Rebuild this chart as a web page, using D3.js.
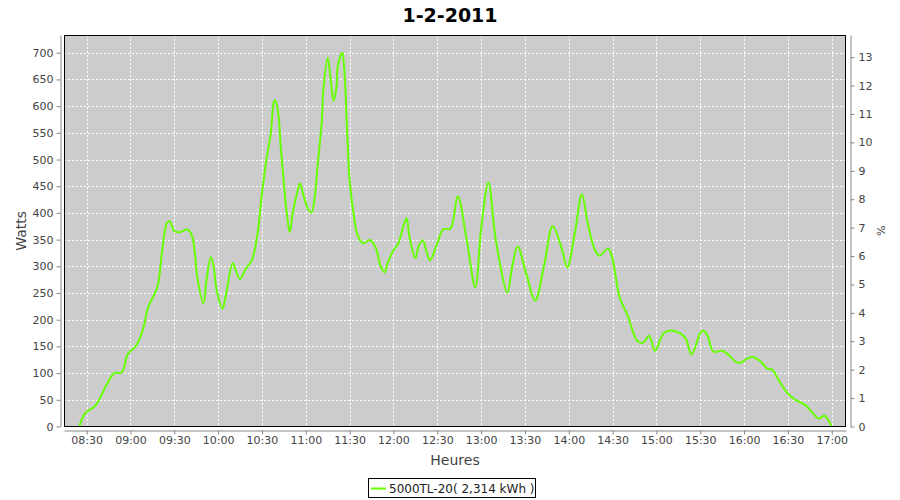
<!DOCTYPE html>
<html><head><meta charset="utf-8">
<script src="https://cdn.jsdelivr.net/npm/d3@7"></script>
<style>
body{margin:0;background:#fff}
text{font-family:"DejaVu Sans",sans-serif}
</style>
</head><body>
<svg id="chart" width="900" height="500"></svg>
<script>
const chartTitle = "1-2-2011";
const xAxisTitle = "Heures";
const leftAxisTitle = "Watts";
const rightAxisTitle = "%";
const seriesName = "5000TL-20( 2,314 kWh )";

const times = ["08:25","08:29","08:36","08:44","08:49","08:54","08:58","09:04","09:09","09:12","09:17","09:19","09:22","09:25","09:27","09:30","09:34","09:39","09:42","09:44","09:46","09:50","09:52","09:55","09:57","09:59","10:03","10:05","10:10","10:12","10:15","10:19","10:23","10:27","10:30","10:33","10:36","10:38","10:39","10:41","10:43","10:45","10:47","10:49","10:51","10:54","10:56","10:58","11:02","11:04","11:06","11:08","11:11","11:12","11:15","11:17","11:19","11:21","11:22","11:25","11:26","11:27","11:28","11:29","11:30","11:33","11:35","11:39","11:44","11:48","11:51","11:54","11:56","12:00","12:03","12:07","12:09","12:11","12:15","12:17","12:20","12:23","12:25","12:30","12:34","12:39","12:44","12:50","12:56","13:00","13:05","13:10","13:18","13:21","13:25","13:31","13:37","13:43","13:49","13:55","13:59","14:04","14:09","14:13","14:18","14:21","14:27","14:35","14:40","14:47","14:51","14:55","14:59","15:05","15:10","15:16","15:20","15:24","15:30","15:32","15:35","15:39","15:45","15:49","15:55","15:58","16:02","16:06","16:12","16:16","16:19","16:23","16:29","16:35","16:42","16:47","16:51","16:55","17:00"];
const watts = [0,25,39,80,100,101,135,152,186,223,251,268,336,381,384,366,364,369,358,326,274,231,274,317,298,255,221,242,306,293,276,296,311,362,437,499,549,606,611,589,518,455,399,364,399,437,455,437,405,401,427,486,574,630,690,650,610,635,677,700,680,640,570,510,460,392,362,343,349,334,302,289,306,330,341,377,390,354,315,336,349,324,311,343,369,371,431,352,261,370,457,350,251,295,337,285,236,300,375,335,298,360,435,380,330,320,333,240,210,160,157,170,142,175,180,175,165,135,175,180,170,140,142,135,120,120,127,130,120,108,107,90,65,50,40,25,15,20,0];

const xTickLabels = ["08:30","09:00","09:30","10:00","10:30","11:00","11:30","12:00","12:30","13:00","13:30","14:00","14:30","15:00","15:30","16:00","16:30","17:00"];
const leftTicks = [0,50,100,150,200,250,300,350,400,450,500,550,600,650,700];
const rightTicks = [0,1,2,3,4,5,6,7,8,9,10,11,12,13];

const xDomain = ["08:14:30","17:09:45"];
const leftMax = 733.2;
const rightMax = 13.78;

const parseHM = d3.timeParse("%H:%M");
const parseHMS = d3.timeParse("%H:%M:%S");

const L = 64, R = 846, T = 35, B = 426.5;
const svg = d3.select("#chart");
svg.append("rect").attr("width",900).attr("height",500).attr("fill","#fff");

const x = d3.scaleTime().domain(xDomain.map(parseHMS)).range([L, R]);
const y = d3.scaleLinear().domain([0, leftMax]).range([B, T]);
const yR = d3.scaleLinear().domain([0, rightMax]).range([B, T]);

// plot background
svg.append("rect").attr("x",L).attr("y",T).attr("width",R-L).attr("height",B-T).attr("fill","#cccccc");

// gridlines
const grid = svg.append("g").attr("stroke","#fff").attr("stroke-width",1).attr("stroke-dasharray","2,2");
grid.selectAll("line.v").data(xTickLabels.map(parseHM)).join("line")
  .attr("x1",d=>Math.round(x(d))+0.5).attr("x2",d=>Math.round(x(d))+0.5)
  .attr("y1",T).attr("y2",B);
grid.selectAll("line.h").data(leftTicks.filter(d=>d>0)).join("line")
  .attr("y1",d=>Math.round(y(d))+0.5).attr("y2",d=>Math.round(y(d))+0.5)
  .attr("x1",L).attr("x2",R);

// clip + line
svg.append("clipPath").attr("id","clip").append("rect").attr("x",L).attr("y",T).attr("width",R-L).attr("height",B-T);
const data = times.map((t,i)=>({t:parseHM(t), v:watts[i]}));
const line = d3.line().x(d=>x(d.t)).y(d=>y(d.v)).curve(d3.curveCatmullRom.alpha(0.5));
svg.append("path").datum(data).attr("clip-path","url(#clip)")
  .attr("d",line).attr("fill","none").attr("stroke","#66ff00").attr("stroke-width",2).attr("stroke-linejoin","round");

// plot border
svg.append("rect").attr("x",L+0.5).attr("y",T+0.5).attr("width",R-L-1).attr("height",B-T-0.5)
  .attr("fill","none").attr("stroke","#000").attr("stroke-width",1);

function styleAxis(g){
  g.selectAll(".domain").attr("stroke","#888");
  g.selectAll(".tick line").attr("stroke","#888");
  g.selectAll(".tick text").attr("fill","#444").attr("font-size",11).attr("font-family","DejaVu Sans");
}

// left axis
svg.append("g").attr("transform","translate(60.5,0)")
  .call(d3.axisLeft(y).tickValues(leftTicks).tickSize(4).tickSizeOuter(0).tickPadding(3))
  .call(styleAxis);
// right axis
svg.append("g").attr("transform","translate(850.5,0)")
  .call(d3.axisRight(yR).tickValues(rightTicks).tickSize(4).tickSizeOuter(0).tickPadding(4))
  .call(styleAxis);
// bottom axis
svg.append("g").attr("transform","translate(0,430.5)")
  .call(d3.axisBottom(x).tickValues(xTickLabels.map(parseHM)).tickFormat(d3.timeFormat("%H:%M")).tickSize(4).tickSizeOuter(0).tickPadding(2))
  .call(styleAxis);

// titles
svg.append("text").attr("x",450).attr("y",22).attr("text-anchor","middle")
  .attr("font-size",19).attr("font-weight","bold").attr("fill","#000").text(chartTitle);
svg.append("text").attr("x",(L+R)/2).attr("y",465).attr("text-anchor","middle")
  .attr("font-size",14).attr("fill","#444").text(xAxisTitle);
svg.append("text").attr("transform",`translate(26,${(T+B)/2}) rotate(-90)`).attr("text-anchor","middle")
  .attr("font-size",14).attr("fill","#444").text(leftAxisTitle);
svg.append("text").attr("transform",`translate(877,${(T+B)/2}) rotate(90)`).attr("text-anchor","middle")
  .attr("font-size",11).attr("fill","#444").text(rightAxisTitle);

// legend
const lg = svg.append("g");
lg.append("rect").attr("x",368.5).attr("y",478.5).attr("width",167).attr("height",19).attr("fill","#fff").attr("stroke","#000");
lg.append("line").attr("x1",371).attr("x2",386).attr("y1",488.5).attr("y2",488.5).attr("stroke","#66ff00").attr("stroke-width",2);
lg.append("text").attr("x",389).attr("y",492.5).attr("font-size",12).attr("fill","#222").text(seriesName);
</script>
</body></html>
